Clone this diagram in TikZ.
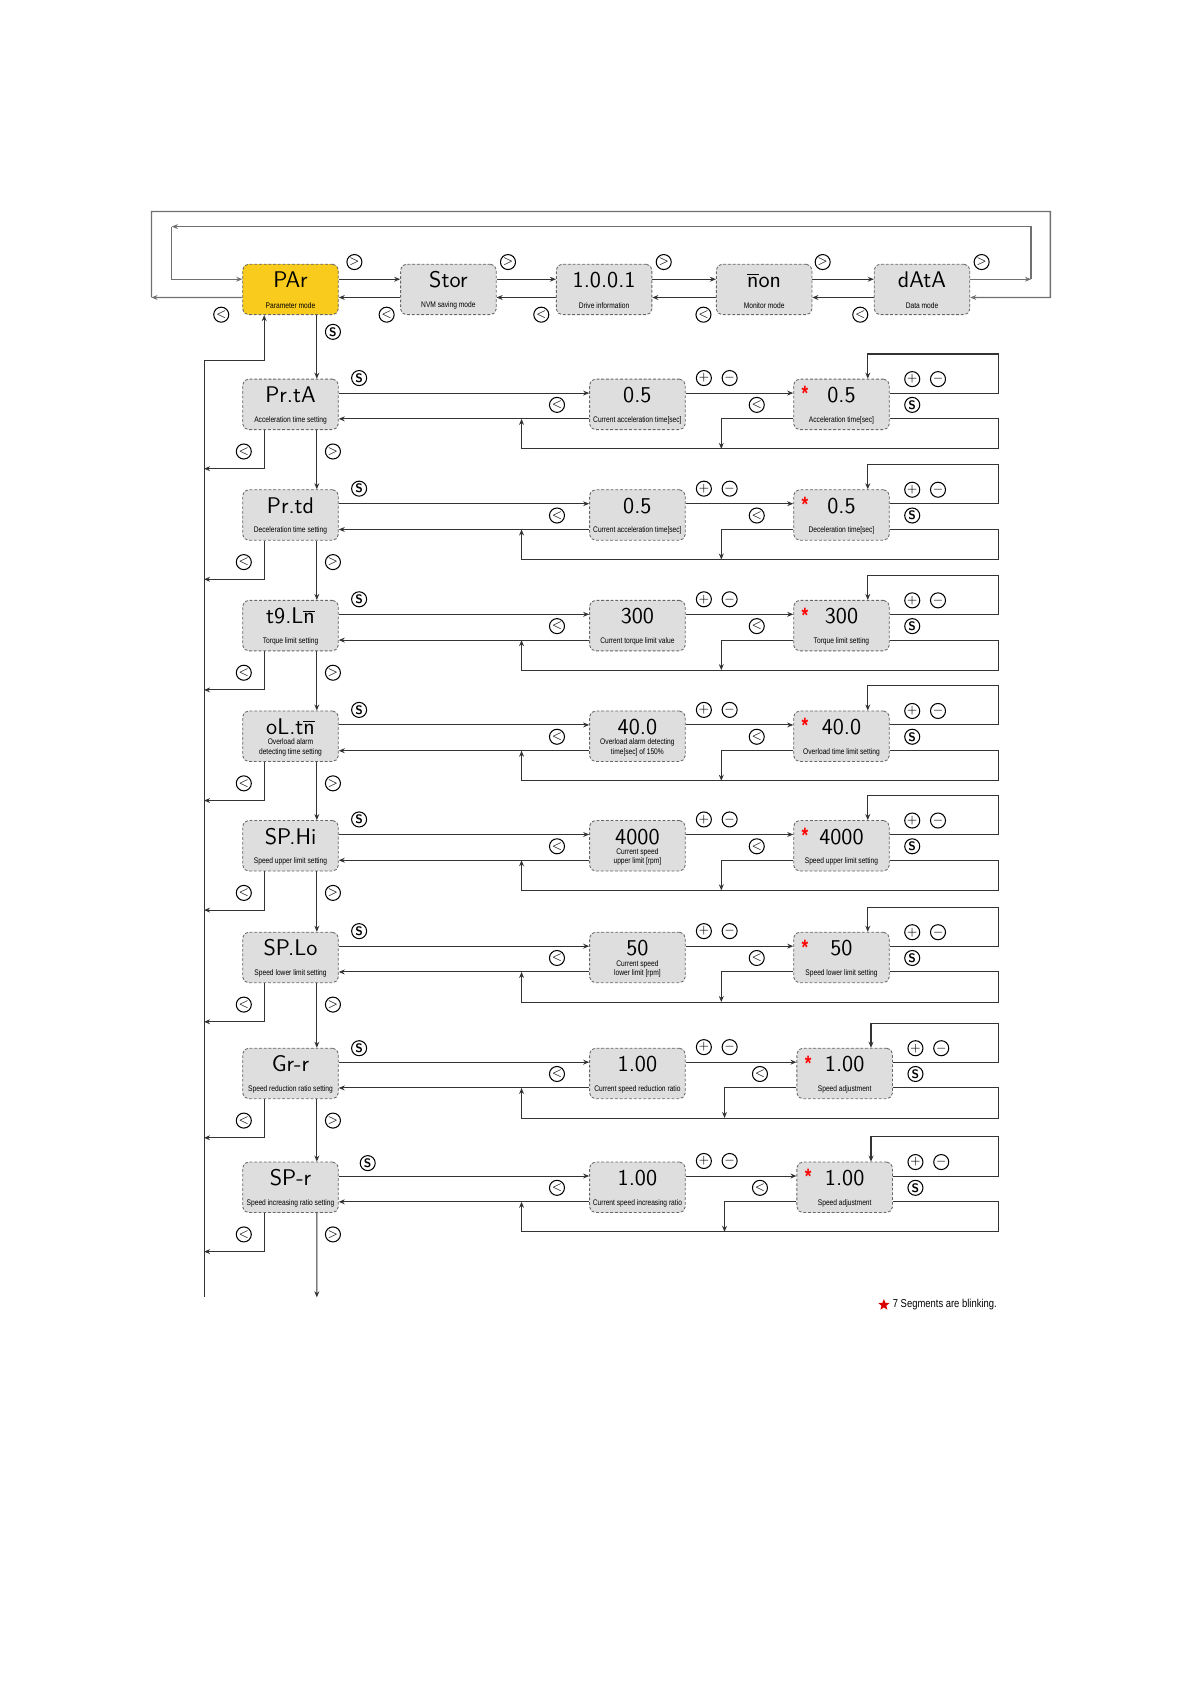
\documentclass[tikz,border=0pt]{standalone}
\usepackage{fontspec}
\newfontfamily\lblfont[FakeStretch=0.82]{Liberation Sans}
\usepackage{tikz}
\usetikzlibrary{arrows.meta, positioning, calc, shapes.geometric}
\usepackage{xcolor}
\definecolor{lcdgray}{HTML}{DEDEDE}
\definecolor{paryellow}{HTML}{F8CB1C}
\definecolor{linegray}{HTML}{333333}
\definecolor{framegray}{HTML}{707070}
\newcommand\segm{$\overline{\hbox{n}}$}

\begin{document}
\begin{tikzpicture}[x=0.02cm, y=-0.02cm,
  lcd/.style={rectangle, rounded corners=3pt, draw=black!60, line width=0.45pt,
              dash pattern=on 1.5pt off 1pt, fill=lcdgray,
              minimum width=1.78cm, minimum height=0.94cm, inner sep=1pt,
              font=\sffamily\fontsize{12}{12}\selectfont,
              text height=8.4pt, text depth=10.2pt},
  desc/.style={label={[lbl]south:{#1}}},
  lbl/.style={anchor=south, yshift=3pt, inner sep=0pt, align=center,
              font=\lblfont\fontsize{4.3}{4.9}\selectfont},
  blink/.style={label={[text=red, anchor=center, xshift=6.2pt, yshift=-8pt,
              inner sep=0pt, font=\lblfont\bfseries\fontsize{11}{11}\selectfont]north west:*}},
  btn/.style={circle, draw=black, line width=0.55pt, minimum size=0.28cm,
              inner sep=0pt, font=\fontsize{6.5}{6.5}\selectfont},
  ln/.style={draw=linegray, line width=0.55pt},
  arr/.style={ln, draw=#1, -{Stealth[length=3.2pt, width=2.6pt]}},
  arr/.default=linegray,
  frm/.style={arr=framegray, line width=0.7pt}
]
\useasboundingbox (0,0) rectangle (1109,1568);

% === Mode row ===
\node[lcd, fill=paryellow, desc=Parameter mode] (PAr)  at (270.5,269.5) {PAr};
\node[lcd, desc=NVM saving mode]                (Stor) at (417.5,269.5) {Stor};
\node[lcd, desc=Drive information]              (Info) at (562.5,269.5) {1.0.0.1};
\node[lcd, desc=Monitor mode]                   (Mon)  at (711.5,269.5) {\segm on};
\node[lcd, desc=Data mode]                      (Data) at (858.5,269.5) {dAtA};

% > on the upper line, < on the lower line
\foreach \a/\b in {PAr/Stor, Stor/Info, Info/Mon, Mon/Data} {
  \draw[arr] ($(\a.east)+(0,-9.5)$) -- ($(\b.west)+(0,-9.5)$);
  \draw[arr] ($(\b.west)+(0,7.5)$) -- ($(\a.east)+(0,7.5)$);
}
\foreach \x [count=\i] in {330,473,618,766,914}
  \node[btn] (nx\i) at (\x,244) {$>$};
\foreach \x [count=\i] in {206,360,504,655,801}
  \node[btn] (pv\i) at (\x,293) {$<$};

% === Wrap-around loops ===
\coordinate (oL)  at (141,197);
\coordinate (oR)  at (978,197);
\coordinate (oLb) at (141,277);
\coordinate (oRb) at (978,277);
\coordinate (iL)  at (160,211);
\coordinate (iR)  at (960,211);
\coordinate (iLb) at (160,260);
\coordinate (iRb) at (960,260);
\draw[frm] ($(Data.east)+(0,-9.5)$) -- (iRb);
\draw[frm] (iRb) -- (iR) -- (iL);
\draw[frm] (iL) -- (iLb) -- ($(PAr.west)+(0,-9.5)$);
\draw[frm] ($(PAr.west)+(0,7.5)$) -- (oLb);
\draw[frm] (oLb) -- (oL) -- (oR) -- (oRb) -- ($(Data.east)+(0,7.5)$);

% === Parameter rows: setting | current value | edit value ===
\node[lcd, desc=Acceleration time setting] (P1) at (270.5,376.5) {Pr.tA};
\node[lcd, desc={Current acceleration time[sec]}] (C1) at (593.5,376.5) {0.5};
\node[lcd, blink, desc={Acceleration time[sec]}] (E1) at (783.5,376.5) {0.5};

\node[lcd, desc=Deceleration time setting] (P2) at (270.5,479.5) {Pr.td};
\node[lcd, desc={Current acceleration time[sec]}] (C2) at (593.5,479.5) {0.5};
\node[lcd, blink, desc={Deceleration time[sec]}] (E2) at (783.5,479.5) {0.5};

\node[lcd, desc=Torque limit setting] (P3) at (270.5,582.5) {t9.L\segm};
\node[lcd, desc=Current torque limit value] (C3) at (593.5,582.5) {300};
\node[lcd, blink, desc=Torque limit setting] (E3) at (783.5,582.5) {300};

\node[lcd, desc={Overload alarm\\detecting time setting}] (P4) at (270.5,685.5) {oL.t\segm};
\node[lcd, desc={Overload alarm detecting\\time[sec] of 150\%}] (C4) at (593.5,685.5) {40.0};
\node[lcd, blink, desc=Overload time limit setting] (E4) at (783.5,685.5) {40.0};

\node[lcd, desc=Speed upper limit setting] (P5) at (270.5,787.5) {SP.Hi};
\node[lcd, desc={Current speed\\upper limit [rpm]}] (C5) at (593.5,787.5) {4000};
\node[lcd, blink, desc=Speed upper limit setting] (E5) at (783.5,787.5) {4000};

\node[lcd, desc=Speed lower limit setting] (P6) at (270.5,891.5) {SP.Lo};
\node[lcd, desc={Current speed\\lower limit [rpm]}] (C6) at (593.5,891.5) {50};
\node[lcd, blink, desc=Speed lower limit setting] (E6) at (783.5,891.5) {50};

\node[lcd, desc=Speed reduction ratio setting] (P7) at (270.5,999.5) {Gr-r};
\node[lcd, desc=Current speed reduction ratio] (C7) at (593.5,999.5) {1.00};
\node[lcd, blink, desc=Speed adjustment] (E7) at (786.5,999.5) {1.00};

\node[lcd, desc=Speed increasing ratio setting] (P8) at (270.5,1105.5) {SP-r};
\node[lcd, desc=Current speed increasing ratio] (C8) at (593.5,1105.5) {1.00};
\node[lcd, blink, desc=Speed adjustment] (E8) at (786.5,1105.5) {1.00};

% === Left bus and the S / < links to the mode row ===
\coordinate (busT) at (190,336);
\coordinate (busB) at (190,1208);
\coordinate (xR)   at (930,0);
\coordinate (endD) at (295,1208);
\draw[ln] (busT) -- (busB);
\draw[arr] (busT) -| ($(PAr.south)+(-24.5,0)$);
\draw[arr] ($(PAr.south)+(24.5,0)$) -- ($(P1.north)+(24.5,0)$);
\node[btn] (s0) at (310,309) {\sffamily\bfseries S};

\foreach \r/\n in {1/2,2/3,3/4,4/5,5/6,6/7,7/8}
  \draw[arr] ($(P\r.south)+(24.5,0)$) -- ($(P\n.north)+(24.5,0)$);
\draw[arr] ($(P8.south)+(24.5,0)$) -- (endD);

\foreach \r in {1,...,8} {
  \draw[arr] ($(P\r.east)+(0,-10.5)$) -- ($(C\r.west)+(0,-10.5)$);
  \draw[arr] ($(C\r.west)+(0,13.5)$) -- ($(P\r.east)+(0,13.5)$);
  \draw[arr] ($(C\r.east)+(0,-10.5)$) -- ($(E\r.west)+(0,-10.5)$);
  % +/- loop on the edit value
  \coordinate (ft\r) at ($(E\r.north)+(24.5,-23)$);
  \draw[arr] ($(E\r.east)+(0,-10.5)$) -| (xR |- ft\r) -- (ft\r) -- (ft\r |- E\r.north);
  % S (and <) back onto the lower line
  \coordinate (fb\r) at ($(C\r.west)+(-63,41.5)$);
  \draw[arr] ($(E\r.east)+(0,13.5)$) -| (xR |- fb\r) -- (fb\r) -- ($(C\r.west)+(-63,13.5)$);
  \draw[arr] ($(E\r.west)+(0,13.5)$) -| ($(E\r.west)+(-67,41.5)$);
  % < to the left bus
  \draw[arr] ($(P\r.south)+(-24.5,0)$) |- ($(P\r.south)+(-80.5,36)$);
}

% === Key symbols per row ===
\foreach \r/\sx/\sy in {1/19/-24.5, 2/19/-24.5, 3/19/-24.5, 4/19/-24.5,
                        5/19/-24.5, 6/19/-24.5, 7/19/-23.5, 8/27/-22.5} {
  \node[btn] (s\r)  at ($(P\r.east)+(\sx,\sy)$)    {\sffamily\bfseries S};
  \node[btn] (b\r)  at ($(C\r.west)+(-30,0.5)$)    {$<$};
  \node[btn] (p\r)  at ($(C\r.east)+(17,-24.5)$)   {$+$};
  \node[btn] (m\r)  at ($(C\r.east)+(41,-24.5)$)   {$-$};
  \node[btn] (eb\r) at ($(E\r.west)+(-34,0.5)$)    {$<$};
  \node[btn] (ep\r) at ($(E\r.east)+(21,-23.5)$)   {$+$};
  \node[btn] (em\r) at ($(E\r.east)+(45,-23.5)$)   {$-$};
  \node[btn] (es\r) at ($(E\r.east)+(21,0.5)$)     {\sffamily\bfseries S};
  \node[btn] (dl\r) at ($(P\r.south)+(-43.5,20)$)  {$<$};
  \node[btn] (dr\r) at ($(P\r.south)+(39.5,20)$)   {$>$};
}

% === Footnote ===
\node[star, star points=5, star point ratio=2.3, fill=red!85!black,
      minimum size=0.22cm, inner sep=0pt] (fstar) at (823,1215) {};
\node[anchor=west, inner sep=0pt, font=\lblfont\fontsize{6.1}{7}\selectfont]
  (fnote) at (831,1215) {7 Segments are blinking.};

\end{tikzpicture}
\end{document}
